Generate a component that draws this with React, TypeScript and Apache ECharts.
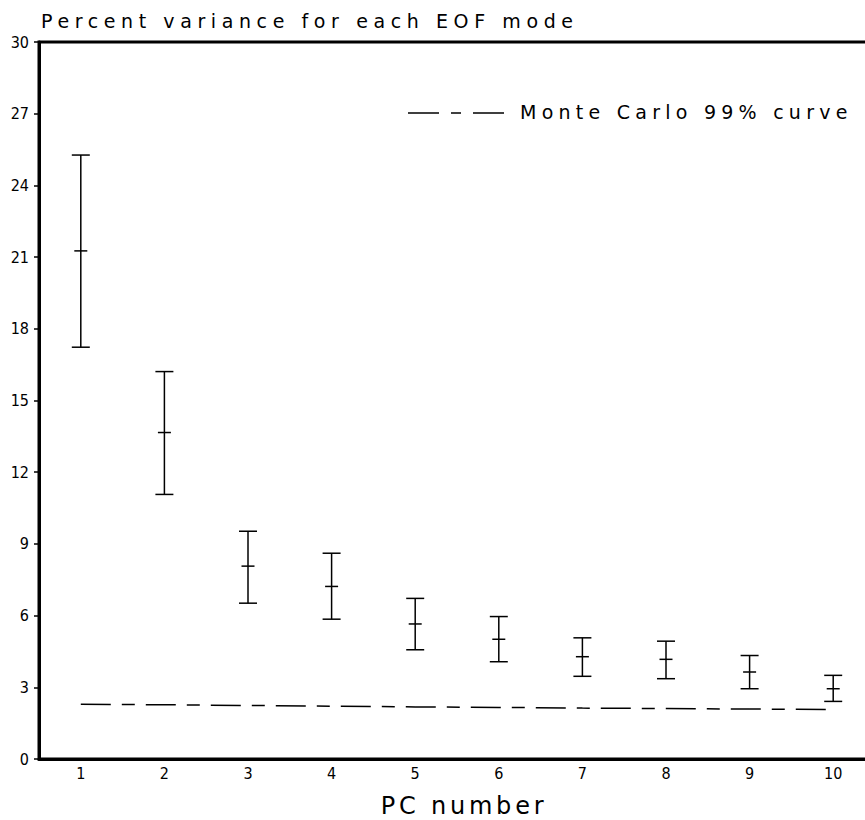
import React, { useEffect, useRef } from "react";
import * as echarts from "echarts";

// ---- data ----
const pcNumbers = ["1", "2", "3", "4", "5", "6", "7", "8", "9", "10"];
const meanVariance = [21.26, 13.66, 8.07, 7.22, 5.65, 5.01, 4.28, 4.17, 3.64, 2.94];
const upperBound = [25.27, 16.21, 9.53, 8.61, 6.72, 5.96, 5.07, 4.93, 4.33, 3.5];
const lowerBound = [17.23, 11.07, 6.52, 5.85, 4.57, 4.07, 3.46, 3.36, 2.94, 2.41];
const monteCarlo99 = [2.29, 2.27, 2.24, 2.21, 2.18, 2.16, 2.13, 2.11, 2.09, 2.07];

const titleText = "Percent variance for each EOF mode";
const legendText = "Monte Carlo 99% curve";
const xAxisName = "PC number";

const tickFont = "'Liberation Sans Narrow', 'DejaVu Sans Condensed', 'Liberation Sans', sans-serif";

export default function App() {
  const ref = useRef<HTMLDivElement>(null);

  useEffect(() => {
    if (!ref.current) return;
    const chart = echarts.init(ref.current, undefined, { renderer: "svg", width: 880, height: 820 });

    const errorData = pcNumbers.map((_, i) => [i, lowerBound[i], upperBound[i], meanVariance[i]]);

    chart.setOption({
      animation: false,
      backgroundColor: "#fff",
      title: {
        text: titleText,
        left: 36,
        top: 6,
        textStyle: { fontSize: 19, fontWeight: "normal", fontFamily: "DejaVu Sans", color: "#000" },
      },
      grid: {
        left: 39,
        top: 42,
        right: 5,
        height: 717,
        outerBoundsMode: "none",
        containLabel: false,
        show: true,
        borderColor: "#000",
        borderWidth: 3,
        backgroundColor: "transparent",
      },
      xAxis: {
        type: "category",
        data: pcNumbers,
        boundaryGap: true,
        name: xAxisName,
        nameLocation: "middle",
        nameGap: 35,
        nameTextStyle: {
          fontSize: 24,
          fontFamily: "DejaVu Sans",
          color: "#000",
          padding: [0, 0, 0, 14],
        },
        axisLine: { lineStyle: { color: "#000", width: 3 } },
        axisTick: { alignWithLabel: true, length: 6, lineStyle: { color: "#000", width: 1.5 } },
        axisLabel: { color: "#000", fontSize: 16, fontFamily: tickFont, margin: 6 },
        splitLine: { show: false },
      },
      yAxis: {
        type: "value",
        min: 0,
        max: 30,
        interval: 3,
        axisLine: { show: true, lineStyle: { color: "#000", width: 3 } },
        axisTick: { show: true, length: 5, lineStyle: { color: "#000", width: 1.5 } },
        axisLabel: { color: "#000", fontSize: 16, fontFamily: tickFont, margin: 10 },
        splitLine: { show: false },
      },
      graphic: [
        {
          type: "line",
          x: 408,
          y: 113,
          shape: { x1: 0, y1: 0, x2: 97, y2: 0 },
          style: { stroke: "#000", lineWidth: 1.5, lineDash: [31, 12, 10, 12] },
        },
        {
          type: "text",
          x: 520,
          y: 112,
          style: {
            text: legendText,
            fontSize: 19,
            fontFamily: "DejaVu Sans, sans-serif",
            fill: "#000",
            verticalAlign: "middle",
          },
        },
      ],
      series: [
        {
          type: "line",
          name: legendText,
          data: monteCarlo99,
          symbol: "none",
          lineStyle: { color: "#000", width: 1.5, type: [30, 11, 13, 11] },
          silent: true,
        },
        {
          type: "custom",
          name: "EOF variance",
          data: errorData,
          encode: { x: 0, y: [1, 2] },
          renderItem: (params: any, api: any) => {
            const i = api.value(0);
            const lo = api.coord([i, api.value(1)]);
            const hi = api.coord([i, api.value(2)]);
            const mid = api.coord([i, api.value(3)]);
            const cap = 9;
            const tick = 6.5;
            const st = { stroke: "#000", lineWidth: 1.5 };
            return {
              type: "group",
              children: [
                { type: "line", shape: { x1: hi[0], y1: hi[1], x2: lo[0], y2: lo[1] }, style: st },
                { type: "line", shape: { x1: hi[0] - cap, y1: hi[1], x2: hi[0] + cap, y2: hi[1] }, style: st },
                { type: "line", shape: { x1: lo[0] - cap, y1: lo[1], x2: lo[0] + cap, y2: lo[1] }, style: st },
                { type: "line", shape: { x1: mid[0] - tick, y1: mid[1], x2: mid[0] + tick, y2: mid[1] }, style: st },
              ],
            };
          },
        },
      ],
    });

    return () => chart.dispose();
  }, []);

  return (
    <>
      <style>
        {".eof-chart text[style*='19px'] { letter-spacing: 5.6px; } " +
          ".eof-chart text[style*='19px'][style*='sans-serif'] { letter-spacing: 5.25px; } " +
          ".eof-chart text[style*='24px'] { letter-spacing: 3.8px; }"}
      </style>
      <div
        ref={ref}
        className="eof-chart"
        style={{ position: "fixed", left: 0, top: 0, width: 865, height: 820, overflow: "hidden" }}
      />
    </>
  );
}
